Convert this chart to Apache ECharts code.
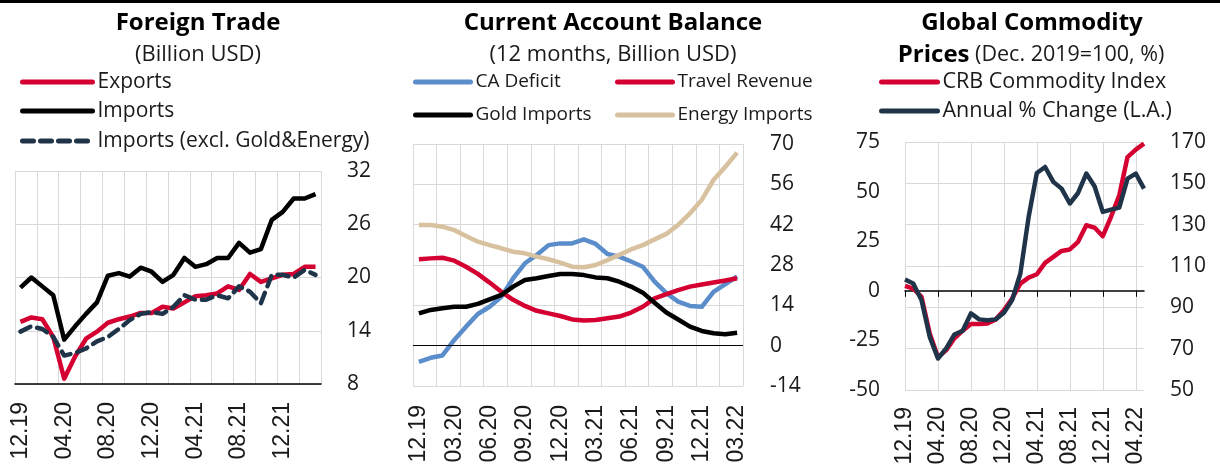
<!DOCTYPE html>
<html><head><meta charset="utf-8">
<script src="https://cdn.jsdelivr.net/npm/echarts@6/dist/echarts.min.js"></script>
<style>html,body{margin:0;padding:0;background:#fff}#c{width:1220px;height:468px}</style>
</head><body><div id="c"></div>
<script>
// ---- data ----
const monthsTrade = ['12.19','01.20','02.20','03.20','04.20','05.20','06.20','07.20','08.20','09.20','10.20','11.20','12.20','01.21','02.21','03.21','04.21','05.21','06.21','07.21','08.21','09.21','10.21','11.21','12.21','01.22','02.22','03.22'];
const exportsData = [15.0,15.5,15.3,13.3,8.6,11.1,13.1,13.9,14.9,15.3,15.6,16.0,16.0,16.7,16.5,17.2,17.9,18.0,18.2,19.0,18.6,20.4,19.5,19.9,20.3,20.4,21.2,21.2];
const importsData = [18.85,20.0,19.0,18.0,13.0,14.5,15.9,17.2,20.2,20.5,20.1,21.1,20.65,19.5,20.3,22.2,21.2,21.5,22.2,22.2,23.9,22.8,23.2,26.5,27.4,28.9,28.9,29.4];
const importsExclData = [13.9,14.5,14.2,13.3,11.2,11.5,12.0,12.8,13.3,14.2,15.2,15.9,16.1,15.9,16.7,18.0,17.5,17.5,18.0,17.65,19.0,18.4,17.1,20.3,20.3,20.0,20.85,20.3];

const monthsCA = ['12.19','01.20','02.20','03.20','04.20','05.20','06.20','07.20','08.20','09.20','10.20','11.20','12.20','01.21','02.21','03.21','04.21','05.21','06.21','07.21','08.21','09.21','10.21','11.21','12.21','01.22','02.22','03.22'];
const caDeficit = [-5.6,-4.2,-3.4,2.0,6.6,11.0,13.5,17.0,23.4,28.6,31.5,34.9,35.5,35.5,36.9,35.3,31.8,30.9,29.2,27.4,22.2,18.2,15.3,13.8,13.5,18.7,21.4,24.0];
const travelRevenue = [30.0,30.3,30.5,29.5,27.4,24.9,21.9,18.7,15.9,13.8,12.1,11.2,10.3,9.1,8.7,8.9,9.5,10.1,11.5,13.5,16.4,17.9,19.3,20.5,21.2,21.9,22.6,23.4];
const goldImports = [11.2,12.4,13.0,13.5,13.5,14.5,16.1,17.6,20.5,22.8,23.4,24.2,24.9,24.9,24.5,23.7,23.4,22.2,20.5,18.4,14.9,11.5,9.1,6.6,5.1,4.3,4.0,4.5];
const energyImports = [41.9,41.9,41.3,40.1,38.1,36.1,34.9,33.8,32.6,32.05,30.9,30.0,28.8,27.4,27.2,28.0,29.7,31.5,33.4,34.9,36.9,38.8,41.9,45.9,50.6,57.5,62.1,67.0];

const monthsCRB = ['12.19','01.20','02.20','03.20','04.20','05.20','06.20','07.20','08.20','09.20','10.20','11.20','12.20','01.21','02.21','03.21','04.21','05.21','06.21','07.21','08.21','09.21','10.21','11.21','12.21','01.22','02.22','03.22','04.22','05.22'];
const crbIndex = [100.4,99.1,95.1,77.4,65.8,69.3,75.0,78.7,81.9,81.9,82.2,84.1,88.6,94.3,101.5,104.4,106.0,111.5,114.4,117.3,118.0,121.7,129.7,128.6,124.4,133.8,144.2,162.7,166.3,169.2];
const crbAnnualChange = [5.7,3.7,-4.7,-23.2,-34.1,-29.0,-22.0,-20.1,-11.4,-14.4,-14.8,-14.4,-11.1,-4.7,8.7,37.2,59.4,62.4,54.9,51.5,44.0,49.3,59.1,52.7,39.8,40.9,41.9,56.5,59.1,51.5];

// ---- styles ----
const RED = '#d50032', BLACK = '#000000', NAVY = '#1f3449', BLUE = '#5b8dcb', TAN = '#d8c19f';
const GRID = '#d9d9d9', TXT = '#1a1a1a';
const FONT = 'Open Sans';
const yLab = {color: TXT, fontFamily: FONT, fontSize: 21};
const xLab = {color: TXT, fontFamily: 'Liberation Sans', fontSize: 23, rotate: 90};

function legendItem(name, left, centerY, w, fs) {
  return {
    data: [name], left: left, top: centerY - 13, padding: 0,
    itemWidth: w, itemHeight: 12,
    itemStyle: {opacity: 0, color: 'transparent', borderWidth: 0},
    lineStyle: {width: 5, cap: 'round'},
    textStyle: {color: TXT, fontFamily: FONT, fontSize: fs, lineHeight: 26}
  };
}

const chart = echarts.init(document.getElementById('c'), null, {renderer: 'canvas'});
const titleStyle = {fontFamily: FONT, fontWeight: 'bold', fontSize: 24, color: '#000', lineHeight: 30};
const subStyle = {fontFamily: FONT, fontWeight: 'normal', fontSize: 22, color: TXT, lineHeight: 30};
const option = {
  animation: false,
  backgroundColor: '#fff',
  graphic: [{type: 'rect', left: 0, top: 0, shape: {width: 1220, height: 3}, style: {fill: '#000'}}],
  title: [
    {text: 'Foreign Trade', left: 198, top: 8, textAlign: 'center', padding: 0, textStyle: titleStyle},
    {text: '(Billion USD)', left: 198, top: 40, textAlign: 'center', padding: 0, textStyle: subStyle},
    {text: 'Current Account Balance', left: 613, top: 8, textAlign: 'center', padding: 0, textStyle: titleStyle},
    {text: '(12 months, Billion USD)', left: 613, top: 40, textAlign: 'center', padding: 0, textStyle: subStyle},
    {text: 'Global Commodity', left: 1032, top: 8, textAlign: 'center', padding: 0, textStyle: titleStyle},
    {text: '{b|Prices} {n|(Dec. 2019=100, %)}', left: 1031, top: 40, textAlign: 'center', padding: 0,
     textStyle: {fontFamily: FONT, fontWeight: 'normal', fontSize: 21.5, color: TXT, lineHeight: 30,
       rich: {b: titleStyle,
              n: {fontFamily: FONT, fontWeight: 'normal', fontSize: 21.5, color: TXT, lineHeight: 30}}}}
  ],
  legend: [
    legendItem('Exports', 20, 82, 70, 21),
    legendItem('Imports', 20, 111, 70, 21),
    legendItem('Imports (excl. Gold&Energy)', 20, 141, 70, 21),
    legendItem('CA Deficit', 413, 82, 55, 19),
    legendItem('Travel Revenue', 615, 82, 55, 19),
    legendItem('Gold Imports', 413, 115, 55, 19),
    legendItem('Energy Imports', 615, 115, 55, 19),
    legendItem('CRB Commodity Index', 879, 82, 56, 21.5),
    legendItem('Annual % Change (L.A.)', 879, 111, 56, 21.5)
  ],
  grid: [
    {left: 15, top: 171, width: 306, height: 213},
    {left: 413, top: 144, width: 330, height: 242},
    {left: 905, top: 142, width: 239, height: 248}
  ],
  xAxis: [
    {gridIndex: 0, type: 'category', data: monthsTrade, boundaryGap: true,
     axisLine: {lineStyle: {color: '#000', width: 1.5}}, axisTick: {show: false},
     axisLabel: Object.assign({interval: 3, margin: 18}, xLab),
     splitLine: {show: true, interval: 1, lineStyle: {color: GRID, width: 1}}},
    {gridIndex: 1, type: 'category', data: monthsCA, boundaryGap: true,
     axisLine: {show: true, lineStyle: {color: GRID, width: 1}}, axisTick: {show: false},
     axisLabel: Object.assign({interval: 2, margin: 19}, xLab),
     splitLine: {show: true, interval: 1, lineStyle: {color: GRID, width: 1}}},
    {gridIndex: 2, type: 'category', data: monthsCRB, boundaryGap: false,
     axisLine: {lineStyle: {color: '#000', width: 1.5}},
     axisTick: {show: true, interval: 3, length: 6, lineStyle: {color: '#000'}},
     axisLabel: Object.assign({interval: 3, margin: 17}, xLab),
     splitLine: {show: true, interval: 3, lineStyle: {color: GRID, width: 1}}}
  ],
  yAxis: [
    {gridIndex: 0, type: 'value', position: 'right', min: 8, max: 32, interval: 6,
     axisLine: {show: false}, axisTick: {show: false},
     axisLabel: Object.assign({margin: 26}, yLab),
     splitLine: {lineStyle: {color: GRID, width: 1}}},
    {gridIndex: 1, type: 'value', position: 'right', min: -14, max: 70, interval: 14,
     axisLine: {show: false}, axisTick: {show: false},
     axisLabel: Object.assign({margin: 27}, yLab),
     splitLine: {lineStyle: {color: GRID, width: 1}}},
    {gridIndex: 2, type: 'value', position: 'left', min: -50, max: 75, interval: 25,
     axisLine: {show: false}, axisTick: {show: false},
     axisLabel: Object.assign({margin: 25}, yLab),
     splitLine: {show: false}},
    {gridIndex: 2, type: 'value', position: 'right', min: 50, max: 170, interval: 20,
     axisLine: {show: false}, axisTick: {show: false},
     axisLabel: Object.assign({margin: 26}, yLab),
     splitLine: {lineStyle: {color: GRID, width: 1}}}
  ],
  series: [
    {name: 'Exports', type: 'line', xAxisIndex: 0, yAxisIndex: 0, data: exportsData,
     symbol: 'none', color: RED, lineStyle: {color: RED, width: 4.5, join: 'round'}},
    {name: 'Imports', type: 'line', xAxisIndex: 0, yAxisIndex: 0, data: importsData,
     symbol: 'none', color: BLACK, lineStyle: {color: BLACK, width: 4.5, join: 'round'}},
    {name: 'Imports (excl. Gold&Energy)', type: 'line', xAxisIndex: 0, yAxisIndex: 0, data: importsExclData,
     symbol: 'none', color: NAVY, lineStyle: {color: NAVY, width: 4.5, type: [11, 7], cap: 'round', join: 'round'}},

    {name: 'CA Deficit', type: 'line', xAxisIndex: 1, yAxisIndex: 1, data: caDeficit,
     symbol: 'none', color: BLUE, lineStyle: {color: BLUE, width: 4.5, join: 'round'},
     markLine: {silent: true, symbol: 'none', label: {show: false},
       lineStyle: {color: '#000', width: 1, type: 'solid'}, data: [{yAxis: 0}]}},
    {name: 'Travel Revenue', type: 'line', xAxisIndex: 1, yAxisIndex: 1, data: travelRevenue,
     symbol: 'none', color: RED, lineStyle: {color: RED, width: 4.5, join: 'round'}},
    {name: 'Gold Imports', type: 'line', xAxisIndex: 1, yAxisIndex: 1, data: goldImports,
     symbol: 'none', color: BLACK, lineStyle: {color: BLACK, width: 4.5, join: 'round'}},
    {name: 'Energy Imports', type: 'line', xAxisIndex: 1, yAxisIndex: 1, data: energyImports,
     symbol: 'none', color: TAN, lineStyle: {color: TAN, width: 4.5, join: 'round'}},

    {name: 'CRB Commodity Index', type: 'line', xAxisIndex: 2, yAxisIndex: 3, data: crbIndex,
     symbol: 'none', color: RED, lineStyle: {color: RED, width: 4.5, join: 'round'}},
    {name: 'Annual % Change (L.A.)', type: 'line', xAxisIndex: 2, yAxisIndex: 2, data: crbAnnualChange,
     symbol: 'none', color: NAVY, lineStyle: {color: NAVY, width: 4.5, join: 'round'}}
  ]
};
chart.setOption(option);
</script></body></html>
